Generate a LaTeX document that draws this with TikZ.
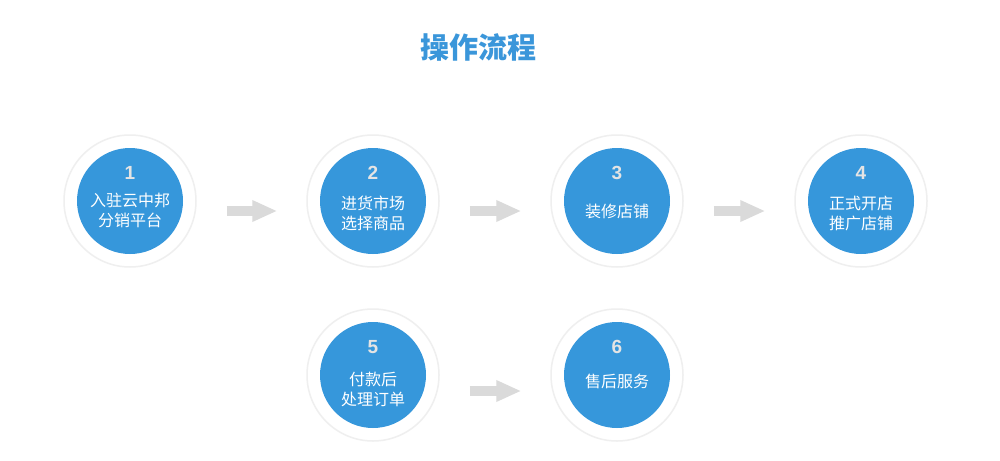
\documentclass[tikz,border=0pt]{standalone}
\usepackage{fontspec}
\setmainfont{Liberation Sans}
\newfontfamily\cjk{Noto Sans CJK SC}
\newfontfamily\numfont{Liberation Sans}
\usetikzlibrary{arrows.meta}
\definecolor{stepblue}{HTML}{3697DB}
\definecolor{titleblue}{HTML}{3A96DA}
\definecolor{ringgray}{HTML}{EFEFEF}
\definecolor{arrowgray}{HTML}{DADADA}
\definecolor{numgray}{HTML}{E4E4E4}
\tikzset{
  ring/.style={circle, fill=white, draw=ringgray, line width=1.5pt, minimum size=132pt, inner sep=0pt},
  disc/.style={circle, fill=stepblue, minimum size=106pt, inner sep=0pt},
  stepnum/.style={text=numgray, font=\numfont\bfseries\fontsize{19}{20}\selectfont, inner sep=0pt},
  steptext/.style={text=white, align=center, font=\cjk\fontsize{16}{20}\selectfont, inner sep=0pt},
  flow/.style={draw=arrowgray, line width=10pt, -{Triangle[length=25pt,width=20pt]}}
}
% #1 number, #2 centre, #3 caption, #4 downward offset of the caption
\newcommand{\stepcircle}[4]{%
  \node[ring] (r#1) at (#2) {};
  \node[disc] (d#1) at (#2) {};
  \node[stepnum] (n#1) at ([yshift=28pt]d#1.center) {#1};
  \node[steptext] (t#1) at ([yshift=-#4pt]d#1.center) {#3};
}
\begin{document}
\begin{tikzpicture}[x=1pt,y=-1pt]
  \useasboundingbox[fill=white] (0,0) rectangle (1000,460);
  % title
  \node[text=titleblue, font=\cjk\bfseries\fontsize{29}{31}\selectfont] (title) at (478,47) {操作流程};
  % steps
  \stepcircle{1}{130,201}{入驻云中邦\\分销平台}{9}
  \stepcircle{2}{373,201}{进货市场\\选择商品}{12}
  \stepcircle{3}{617,201}{装修店铺}{10}
  \stepcircle{4}{861,201}{正式开店\\推广店铺}{13}
  \stepcircle{5}{373,375}{付款后\\处理订单}{14}
  \stepcircle{6}{617,375}{售后服务}{6}
  % arrows between steps
  \draw[flow] ([shift={(30,10)}]r1.east) -- ([shift={(-29,10)}]r2.west);
  \draw[flow] ([shift={(30,10)}]r2.east) -- ([shift={(-29,10)}]r3.west);
  \draw[flow] ([shift={(30,10)}]r3.east) -- ([shift={(-29,10)}]r4.west);
  \draw[flow] ([shift={(30,16)}]r5.east) -- ([shift={(-29,16)}]r6.west);
\end{tikzpicture}
\end{document}
